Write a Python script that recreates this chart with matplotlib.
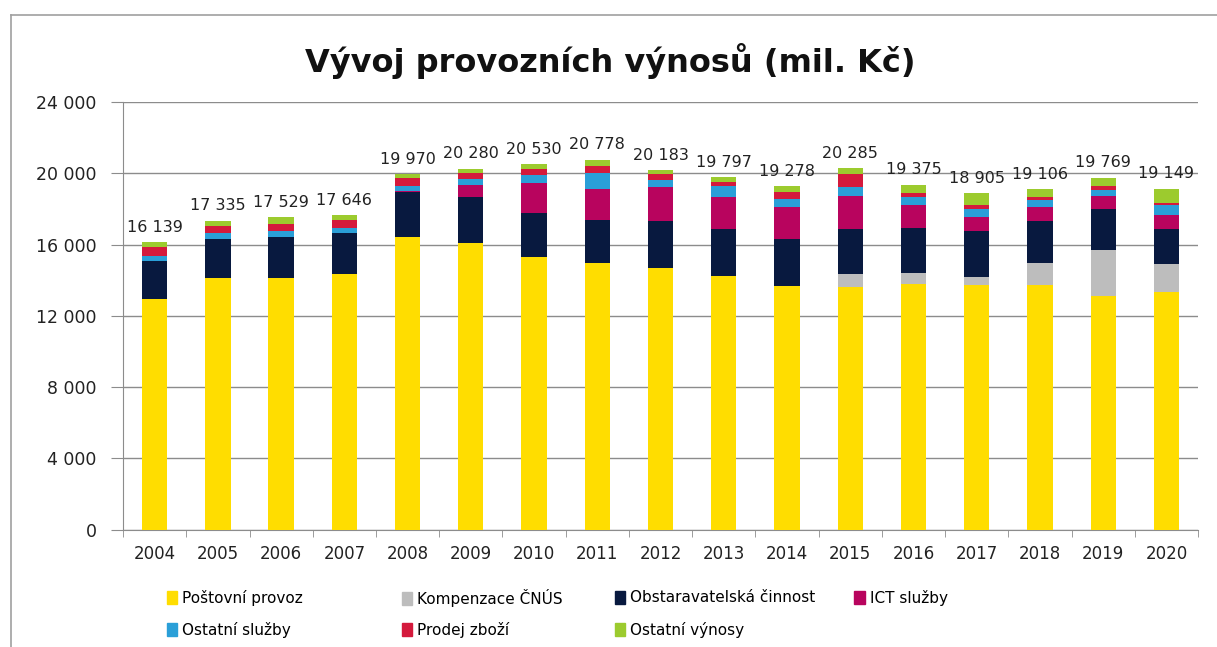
import numpy as np
import matplotlib
matplotlib.use("Agg")
import matplotlib.pyplot as plt
from matplotlib.patches import Patch
from matplotlib.lines import Line2D
from matplotlib.ticker import FuncFormatter, FixedLocator

roky = [str(r) for r in range(2004, 2021)]

postovni = [12950, 14146, 14112, 14354, 16450, 16079, 15326, 14955, 14674,
            14242, 13697, 13641, 13775, 13736, 13736, 13135, 13360]
kompenzace = [0, 0, 0, 0, 0, 0, 0, 0, 0, 0, 0, 713, 618, 432, 1253, 2567, 1539]
obstaravatelska = [2150, 2157, 2338, 2320, 2494, 2618, 2472, 2433, 2674,
                   2640, 2606, 2511, 2528, 2602, 2359, 2287, 1966]
ict = [0, 0, 0, 0, 60, 657, 1652, 1725, 1911, 1815, 1798, 1888, 1309, 803,
       787, 764, 803]
ostatni_sluzby = [265, 337, 320, 281, 294, 320, 466, 898, 376, 601, 449, 472,
                  467, 416, 376, 320, 562]
prodej = [520, 410, 393, 433, 449, 371, 337, 410, 337, 207, 411, 730, 191,
          241, 186, 225, 130]
ostatni_vynosy = [254, 285, 366, 258, 223, 235, 277, 357, 211, 292, 317, 330,
                  487, 675, 409, 471, 789]
celkem = [16139, 17335, 17529, 17646, 19970, 20280, 20530, 20778, 20183,
          19797, 19278, 20285, 19375, 18905, 19106, 19769, 19149]

serie = [
    ("Poštovní provoz", postovni, "#FFDD00"),
    ("Kompenzace ČNÚS", kompenzace, "#BDBDBD"),
    ("Obstaravatelská činnost", obstaravatelska, "#08193F"),
    ("ICT služby", ict, "#B8045E"),
    ("Ostatní služby", ostatni_sluzby, "#2A9FD8"),
    ("Prodej zboží", prodej, "#D41A3C"),
    ("Ostatní výnosy", ostatni_vynosy, "#9CCB2E"),
]

fig = plt.figure(figsize=(12.17, 6.47), dpi=100)
ax = fig.add_axes([0.1011, 0.1816, 0.8833, 0.6603])

x = np.arange(len(roky))
spodek = np.zeros(len(roky))
for nazev, hodnoty, barva in serie:
    ax.bar(x, hodnoty, 0.4, bottom=spodek, color=barva, zorder=3)
    spodek += np.array(hodnoty)

for i, v in enumerate(celkem):
    ax.text(x[i], v + 420, f"{v:,}".replace(",", " "), ha="center",
            va="bottom", fontsize=11.5, color="#222222", family="DejaVu Sans")

ax.set_xlim(-0.5, len(roky) - 0.5)
ax.set_ylim(0, 24000)
ax.yaxis.set_major_locator(FixedLocator(np.arange(0, 24001, 4000)))
ax.yaxis.set_major_formatter(FuncFormatter(lambda v, p: f"{int(v):,}".replace(",", " ")))
ax.grid(axis="y", color="#8C8C8C", linewidth=1, zorder=0)

ax.set_xticks(x)
ax.set_xticklabels(roky)
ax.xaxis.set_minor_locator(FixedLocator(np.arange(-0.5, len(roky), 1)))
ax.tick_params(axis="x", which="major", length=0, labelsize=12, pad=11,
               labelcolor="#222222")
ax.tick_params(axis="x", which="minor", length=5, color="#8C8C8C")
ax.tick_params(axis="y", length=9, color="#8C8C8C", labelsize=12.5, pad=10,
               labelcolor="#222222")

for s in ["top", "right"]:
    ax.spines[s].set_visible(False)
ax.spines["left"].set_color("#8C8C8C")
ax.spines["bottom"].set_color("#8C8C8C")

fig.text(0.5012, 0.905, "Vývoj provozních výnosů (mil. Kč)", ha="center",
         va="center", fontsize=23, fontweight="bold", color="#111111",
         family="DejaVu Sans")

# ramecek grafu
fig.add_artist(Line2D([11 / 1217, 11 / 1217], [0, 1 - 15 / 647],
                      transform=fig.transFigure, color="#A0A0A0", lw=1.2))
fig.add_artist(Line2D([11 / 1217, 1], [1 - 15 / 647, 1 - 15 / 647],
                      transform=fig.transFigure, color="#A0A0A0", lw=1.2))

# legenda - kazda polozka zvlast, at sedi do radku
sloupce_x = [0.137, 0.330, 0.505, 0.702]
radky_y = [1 - 598 / 647, 1 - 630 / 647]
poradi = [(0, 0, 0), (1, 1, 0), (2, 2, 0), (3, 3, 0),
          (4, 0, 1), (5, 1, 1), (6, 2, 1)]
for k, sl, rd in poradi:
    fig.legend(handles=[Patch(color=serie[k][2], label=serie[k][0])],
               loc="center left", bbox_to_anchor=(sloupce_x[sl], radky_y[rd]),
               frameon=False, handlelength=0.7, handleheight=0.9,
               handletextpad=0.3, borderaxespad=0, borderpad=0,
               prop={"family": "DejaVu Sans", "size": 11})

fig.savefig("out.png", dpi=100)
